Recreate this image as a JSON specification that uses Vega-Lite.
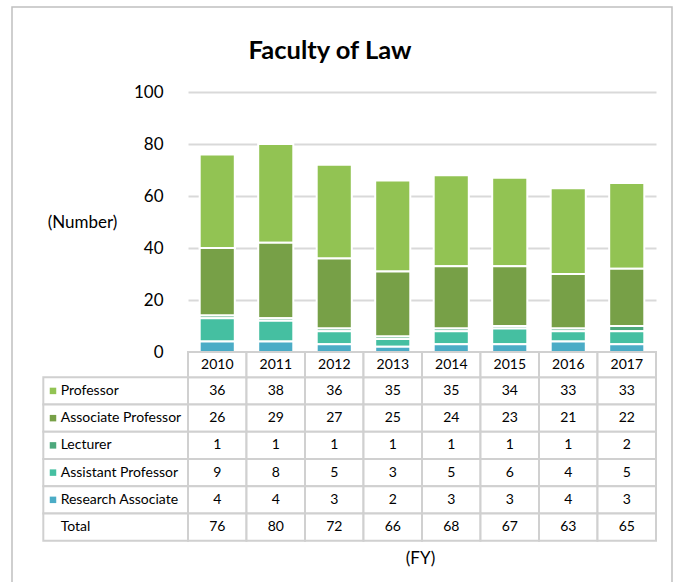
{
  "$schema": "https://vega.github.io/schema/vega-lite/v6.json",
  "width": 660,
  "height": 577,
  "autosize": {"type": "none"},
  "padding": {"left": 12, "top": 7, "right": 6, "bottom": 0},
  "background": "white",
  "config": {
    "view": {"stroke": "#c0c0c0", "strokeWidth": 1.5},
    "font": "Lato",
    "axis": {"labelFont": "Lato", "titleFont": "Lato"}
  },
  "title": {
    "text": "Faculty of Law",
    "font": "Lato",
    "fontSize": 25.5,
    "fontWeight": "bold",
    "color": "#000000",
    "anchor": "middle",
    "frame": "group",
    "offset": -57,
    "dx": -12
  },
  "datasets": {
    "fac": [
      {"year": "2010", "role": "Professor", "n": 36},
      {"year": "2011", "role": "Professor", "n": 38},
      {"year": "2012", "role": "Professor", "n": 36},
      {"year": "2013", "role": "Professor", "n": 35},
      {"year": "2014", "role": "Professor", "n": 35},
      {"year": "2015", "role": "Professor", "n": 34},
      {"year": "2016", "role": "Professor", "n": 33},
      {"year": "2017", "role": "Professor", "n": 33},
      {"year": "2010", "role": "Associate Professor", "n": 26},
      {"year": "2011", "role": "Associate Professor", "n": 29},
      {"year": "2012", "role": "Associate Professor", "n": 27},
      {"year": "2013", "role": "Associate Professor", "n": 25},
      {"year": "2014", "role": "Associate Professor", "n": 24},
      {"year": "2015", "role": "Associate Professor", "n": 23},
      {"year": "2016", "role": "Associate Professor", "n": 21},
      {"year": "2017", "role": "Associate Professor", "n": 22},
      {"year": "2010", "role": "Lecturer", "n": 1},
      {"year": "2011", "role": "Lecturer", "n": 1},
      {"year": "2012", "role": "Lecturer", "n": 1},
      {"year": "2013", "role": "Lecturer", "n": 1},
      {"year": "2014", "role": "Lecturer", "n": 1},
      {"year": "2015", "role": "Lecturer", "n": 1},
      {"year": "2016", "role": "Lecturer", "n": 1},
      {"year": "2017", "role": "Lecturer", "n": 2},
      {"year": "2010", "role": "Assistant Professor", "n": 9},
      {"year": "2011", "role": "Assistant Professor", "n": 8},
      {"year": "2012", "role": "Assistant Professor", "n": 5},
      {"year": "2013", "role": "Assistant Professor", "n": 3},
      {"year": "2014", "role": "Assistant Professor", "n": 5},
      {"year": "2015", "role": "Assistant Professor", "n": 6},
      {"year": "2016", "role": "Assistant Professor", "n": 4},
      {"year": "2017", "role": "Assistant Professor", "n": 5},
      {"year": "2010", "role": "Research Associate", "n": 4},
      {"year": "2011", "role": "Research Associate", "n": 4},
      {"year": "2012", "role": "Research Associate", "n": 3},
      {"year": "2013", "role": "Research Associate", "n": 2},
      {"year": "2014", "role": "Research Associate", "n": 3},
      {"year": "2015", "role": "Research Associate", "n": 3},
      {"year": "2016", "role": "Research Associate", "n": 4},
      {"year": "2017", "role": "Research Associate", "n": 3},
      {"year": "2010", "role": "Total", "n": 76},
      {"year": "2011", "role": "Total", "n": 80},
      {"year": "2012", "role": "Total", "n": 72},
      {"year": "2013", "role": "Total", "n": 66},
      {"year": "2014", "role": "Total", "n": 68},
      {"year": "2015", "role": "Total", "n": 67},
      {"year": "2016", "role": "Total", "n": 63},
      {"year": "2017", "role": "Total", "n": 65}
    ]
  },
  "data": {"name": "fac"},
  "resolve": {
    "scale": {"x": "independent", "y": "independent"},
    "axis": {"x": "independent", "y": "independent"}
  },
  "layer": [
    {
      "transform": [
        {"filter": "datum.role !== 'Total'"},
        {"calculate": "indexof(['Research Associate','Assistant Professor','Lecturer','Associate Professor','Professor'], datum.role)", "as": "stackOrder"}
      ],
      "mark": {"type": "bar", "width": {"band": 0.6}, "stroke": "white", "strokeWidth": 2},
      "encoding": {
        "x": {
          "field": "year", "type": "nominal",
          "scale": {"type": "band", "domain": ["2010","2011","2012","2013","2014","2015","2016","2017"], "range": [176, 644], "paddingInner": 0, "paddingOuter": 0},
          "axis": null
        },
        "y": {
          "field": "n", "type": "quantitative", "stack": "zero",
          "scale": {"domain": [0, 100], "range": [345, 85], "nice": false},
          "axis": {
            "orient": "left",
            "values": [0, 20, 40, 60, 80, 100],
            "offset": -176,
            "domain": false,
            "ticks": false,
            "grid": true,
            "gridColor": "#d9d9d9",
            "gridWidth": 2,
            "labelFontSize": 17,
            "labelColor": "#000000",
            "labelPadding": 25,
            "labelFlush": false,
            "labelOverlap": false,
            "title": "(Number)",
            "titleAngle": 0,
            "titleFontSize": 17,
            "titleFontWeight": "normal",
            "titleColor": "#000000",
            "titleAlign": "center",
            "titleBaseline": "middle",
            "titleX": -106,
            "titleY": 215
          }
        },
        "color": {
          "field": "role", "type": "nominal",
          "scale": {
            "domain": ["Professor", "Associate Professor", "Lecturer", "Assistant Professor", "Research Associate"],
            "range": ["#92c353", "#77a047", "#4ca87c", "#45bfa1", "#4bacc6"]
          },
          "legend": null
        },
        "order": {"field": "stackOrder", "type": "quantitative", "sort": "ascending"}
      }
    },
    {
      "encoding": {
        "x": {
          "field": "year", "type": "nominal",
          "scale": {"type": "band", "domain": ["2010","2011","2012","2013","2014","2015","2016","2017"], "range": [176, 644], "paddingInner": 0, "paddingOuter": 0},
          "axis": null
        },
        "y": {
          "field": "role", "type": "nominal",
          "scale": {"type": "band", "domain": ["Professor", "Associate Professor", "Lecturer", "Assistant Professor", "Research Associate", "Total"], "range": [370.3, 533.7], "paddingInner": 0, "paddingOuter": 0},
          "axis": null
        }
      },
      "layer": [
        {"mark": {"type": "rect", "fill": "white", "stroke": "#d0d0d0", "strokeWidth": 2}},
        {
          "mark": {"type": "text", "font": "Lato", "fontSize": 14, "color": "#000000", "baseline": "middle", "align": "center"},
          "encoding": {"text": {"field": "n", "type": "quantitative"}}
        }
      ]
    },
    {
      "transform": [{"filter": "datum.role === 'Total'"}],
      "encoding": {
        "x": {
          "field": "year", "type": "nominal",
          "scale": {"type": "band", "domain": ["2010","2011","2012","2013","2014","2015","2016","2017"], "range": [176, 644], "paddingInner": 0, "paddingOuter": 0},
          "axis": {
            "orient": "bottom",
            "offset": -43.3,
            "domain": false,
            "ticks": false,
            "labels": false,
            "grid": false,
            "title": "(FY)",
            "titleFontSize": 17,
            "titleFontWeight": "normal",
            "titleColor": "#000000",
            "titlePadding": 10,
            "titleX": 408
          }
        },
        "y": {
          "datum": "hdr", "type": "nominal",
          "scale": {"type": "band", "domain": ["hdr"], "range": [345, 370.3], "paddingInner": 0, "paddingOuter": 0},
          "axis": null
        }
      },
      "layer": [
        {"mark": {"type": "rect", "fill": "white", "stroke": "#d0d0d0", "strokeWidth": 2}},
        {
          "mark": {"type": "text", "font": "Lato", "fontSize": 14, "color": "#000000", "baseline": "middle", "align": "center"},
          "encoding": {"text": {"field": "year", "type": "nominal"}}
        }
      ]
    },
    {
      "transform": [{"filter": "datum.year === '2010'"}],
      "encoding": {
        "y": {
          "field": "role", "type": "nominal",
          "scale": {"type": "band", "domain": ["Professor", "Associate Professor", "Lecturer", "Assistant Professor", "Research Associate", "Total"], "range": [370.3, 533.7], "paddingInner": 0, "paddingOuter": 0},
          "axis": null
        }
      },
      "layer": [
        {
          "mark": {"type": "rect", "fill": "white", "stroke": "#d0d0d0", "strokeWidth": 2},
          "encoding": {
            "x": {"datum": "lbl", "type": "nominal", "scale": {"type": "band", "domain": ["lbl"], "range": [31.3, 176], "paddingInner": 0, "paddingOuter": 0}, "axis": null}
          }
        },
        {
          "mark": {"type": "text", "font": "Lato", "fontSize": 14, "color": "#000000", "baseline": "middle", "align": "left"},
          "encoding": {
            "x": {"datum": "lbl", "type": "nominal", "bandPosition": 0.12, "scale": {"type": "band", "domain": ["lbl"], "range": [31.3, 176], "paddingInner": 0, "paddingOuter": 0}, "axis": null},
            "text": {"field": "role", "type": "nominal"}
          }
        },
        {
          "transform": [{"filter": "datum.role !== 'Total'"}],
          "mark": {"type": "point", "shape": "square", "filled": true, "opacity": 1, "size": 42},
          "encoding": {
            "x": {"datum": "lbl", "type": "nominal", "bandPosition": 0.067, "scale": {"type": "band", "domain": ["lbl"], "range": [31.3, 176], "paddingInner": 0, "paddingOuter": 0}, "axis": null},
            "color": {"field": "role", "type": "nominal", "legend": null}
          }
        }
      ]
    }
  ]
}
